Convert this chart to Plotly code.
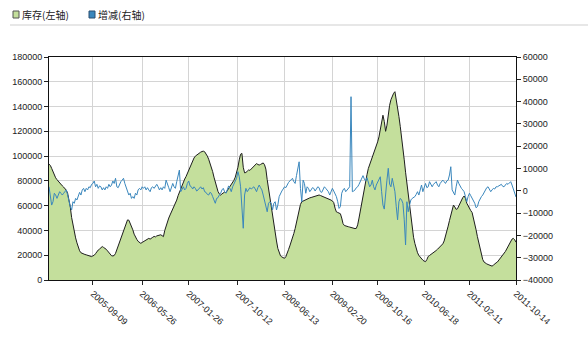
import pandas as pd
import plotly.graph_objects as go

# ---- data ----
start_date = "2005-01-21"
end_date = "2011-10-14"
dates = pd.date_range(start_date, end_date, freq="W-FRI")

stock = [
    93500, 92500, 90100, 87000, 84500, 82500, 81000, 79500, 78300, 77200,
    76000, 75000, 74000, 72500, 70000, 65000, 59000, 50500, 44000, 39000,
    34000, 30000, 25800, 23600, 22000, 21300, 21000, 20600, 20300, 20000,
    19600, 19200, 18900, 19500, 20000, 21300, 23000, 24200, 25000, 26500,
    27000, 26300, 25700, 24800, 23500, 22300, 21000, 19600, 19400, 19800,
    21500, 24500, 28000, 32000, 35000, 37500, 39500, 43000, 47000, 48500,
    48300, 46000, 43500, 40500, 37000, 34500, 32800, 31200, 30000, 29600,
    30300, 31000, 31800, 32500, 33200, 33600, 33000, 34200, 34500, 35200,
    34800, 35600, 36000, 36300, 36500, 35800, 35000, 40000, 44000, 47000,
    50000, 52500, 55000, 57000, 59000, 61000, 64500, 68000, 71000, 74000,
    77000, 79500, 81500, 83500, 86000, 89000, 92000, 95000, 97000, 98500,
    100000, 100900, 101800, 102500, 103200, 103700, 104000, 103500, 102000, 100000,
    97500, 94500, 91000, 87500, 83000, 78500, 75000, 71500, 69500, 68500,
    69500, 70500, 71000, 70500, 72000, 74000, 75000, 76500, 78500, 80500,
    83000, 86500, 91000, 97000, 101500, 102200, 91000, 86500, 86800, 87800,
    88800, 88500, 89500, 90500, 91500, 92500, 94000, 93200, 92800, 93300,
    93800, 94500, 93000, 89500, 81000, 73500, 66500, 58500, 51000, 44000,
    37500, 31500, 25500, 21500, 19500, 18600, 18000, 17500, 18800, 21000,
    24500, 27500, 30500, 34000, 37500, 41500, 46000, 51000, 57500, 61000,
    63200, 63800, 64400, 64900, 65400, 65900, 66300, 66600, 67000, 67200,
    67600, 68000, 68400, 68600, 68200, 67800, 67300, 67000, 66600, 66200,
    65900, 65300, 64500, 63800, 62500, 58000, 55000, 54500, 54000, 53500,
    50000, 45500, 44000, 43500, 43200, 43000, 42700, 42300, 42000, 41700,
    41500, 41700, 44500, 50000, 56000, 63000, 69500, 74500, 80000, 85000,
    90000, 93000, 96000, 98500, 101000, 104000, 107500, 111500, 115500, 120500,
    128000, 133000, 128000, 120000, 125000, 134500, 141000, 145500, 148500, 150700,
    152000, 146000, 139000, 132000, 124000, 116000, 107000, 97000, 87000, 78000,
    68000, 59000, 49000, 40500, 34500, 29500, 25000, 22000, 19800, 18300,
    17000, 16000, 15200, 14800, 16500, 19000, 19800, 20500, 21200, 22000,
    22800, 23800, 24800, 25800, 26800, 28000, 29200, 31500, 35000, 39000,
    43500, 48000, 52500, 57500, 60500, 59000, 57000, 57500, 60000, 63000,
    65000, 66500, 67800, 66000, 62000, 59500, 57500, 56000, 54500, 50500,
    45500, 40500, 35000, 30500, 26000, 20500, 16500, 14500, 13500, 13000,
    12500, 12200, 11500, 11200, 12000, 13200, 13800, 14500, 15800, 17200,
    18500, 19800, 21500, 23000, 25000, 27000, 29500, 31500, 33000, 33600,
    32500, 30500,
]

change = [
    1800, -1900, -6400, -4900, -1100, -1900, -3400, -1900, -400, -1100,
    -1900, -1100, -400, 400, -1900, -4900, -7100, -8600, -4900, -5600,
    -3400, -4100, -1900, -700, -1900, 400, 1100, -400, 1100, 400,
    1800, 1400, 2900, 3300, 4400, 1800, 2900, 1100, 2200, 1800,
    400, 1400, 400, 1800, 1100, 2900, 1800, 2600, 4400, 3300,
    5600, 1800, 1400, 3300, 4100, 4800, 5600, 3300, 1800, -400,
    -1900, -1100, -3400, -2600, -3400, -1100, -1900, 400, 1100, 400,
    1800, 1100, 1800, 400, 1400, 400, -400, 1400, 1800, 1100,
    2200, 2900, 1800, 400, 1400, 400, 1800, 1100, 4800, 2600,
    1400, -400, 1800, 3300, 1800, 1100, 4100, 6300, 9300, -400,
    1100, 1800, 400, 1100, 3300, 4400, 2200, 1800, 800, 1800,
    1100, -100, 400, 1400, 1800, 800, 1400, -400, -700, -1600,
    -1900, -700, -1100, -2600, -4100, -5600, -3400, -3100, -1900, -1100,
    400, 1100, -400, -1100, 400, 2200, 1100, -400, 1800, 3300,
    4400, 5600, 8600, 6300, 1800, -6400, -16800, -1900, 1100, -400,
    400, 1400, 800, 1400, 1800, 800, -400, 1400, 2600, 1400,
    400, -1900, -4900, -7100, -9400, -5600, -4900, -5600, -8600, -5600,
    -4900, -8600, -6400, -2600, -1100, -100, 800, 1800, 1400, 2900,
    3700, 4400, 5300, 5600, 4100, 3300, 6800, 10100, 13000, 1100,
    -4900, 4800, 3300, -1100, 1800, 1100, -400, 400, 1400, 1100,
    -100, 800, 1800, 1400, -400, -700, 400, 1800, 1100, 400,
    -400, -1900, -400, 1100, -100, -1100, -2600, -4900, -7900, -7100,
    -1100, 400, 1100, -400, 400, 1400, 1800, 42200, -400, -100,
    400, 1400, 1800, 2900, 4100, 5300, 6800, 5300, 4400, 5900,
    4100, 1800, 2600, 4800, 1800, 400, 2600, 4100, 5300, 6300,
    -400, -6400, -8200, 400, 4800, 10100, 3000, 1800, 5600, 2600,
    -400, -7100, -13000, -4900, -3400, -4100, -5600, -13000, -24300, -4900,
    -9400, -6400, -4100, -3400, -3100, -2600, -1600, -400, -1900, 1100,
    2600, -400, 1800, 3300, 1400, 1800, 4100, 2600, 1800, 2900,
    3300, 4100, 2600, 1800, 3300, 4100, 4800, 4100, 3300, 4400,
    4800, 7100, 10800, 400, -1100, -1900, 1800, 4800, 3300, 1800,
    1100, 400, -400, -2600, -4900, -2600, -1100, -2200, -3400, -4600,
    -5600, -7600, -7100, -4900, -3400, -2600, -1900, -700, 800, 1400,
    1800, 800, -400, 400, 1100, 800, 1800, 1800, 2200, 2600,
    2900, 2000, 1800, 2600, 3300, 2900, 3700, 4100, 2600, 1100,
    -1100, -2800,
]

tick_dates = ["2005-09-09", "2006-05-26", "2007-01-26", "2007-10-12", "2008-06-13",
              "2009-02-20", "2009-10-16", "2010-06-18", "2011-02-11", "2011-10-14"]

series_names = ["库存(左轴)", "增减(右轴)"]

# ---- styles ----
W, H = 588, 348
ML, MR, MT, MB = 49, 72, 57, 68
PW, PH = W - ML - MR, H - MT - MB
GREEN = "#c4df9c"
BLUE = "#3a87bd"
FONT = "Liberation Sans Narrow, Arial Narrow, Liberation Sans, Arial, sans-serif"


def px_x(px):
    return (px - ML) / PW


def px_y(py):
    return (H - MB - py) / PH


fig = go.Figure()
fig.add_trace(go.Scatter(
    x=dates, y=stock, name=series_names[0], mode="lines",
    fill="tozeroy", fillcolor=GREEN,
    line=dict(color="#1e1e1e", width=1), showlegend=False,
))
fig.add_trace(go.Scatter(
    x=dates, y=change, name=series_names[1], mode="lines", yaxis="y2",
    line=dict(color=BLUE, width=1), showlegend=False,
))

tickfont = dict(family=FONT, size=9, color="#222")
fig.update_layout(
    width=W, height=H,
    margin=dict(l=ML, r=MR, t=MT, b=MB, pad=0),
    paper_bgcolor="white", plot_bgcolor="white",
    xaxis=dict(
        type="date",
        range=[start_date, end_date],
        tickvals=tick_dates, ticktext=tick_dates,
        tickangle=42, tickfont=tickfont,
        ticks="outside", ticklen=4, tickcolor="#222",
        showgrid=True, gridcolor="#d4d4d4", gridwidth=1,
        showline=True, linecolor="#111", linewidth=1, mirror=True,
        zeroline=False,
    ),
    yaxis=dict(
        range=[0, 180000], dtick=20000, tickformat="d",
        tickfont=tickfont, ticks="outside", ticklen=4, tickcolor="#222",
        showgrid=True, gridcolor="#d4d4d4", gridwidth=1,
        showline=True, linecolor="#111", linewidth=1,
        zeroline=False,
    ),
    yaxis2=dict(
        range=[-40000, 60000], dtick=10000, tickformat="d",
        overlaying="y", side="right",
        tickfont=tickfont, ticks="outside", ticklen=4, tickcolor="#222",
        showgrid=False, showline=True, linecolor="#111", linewidth=1,
        zeroline=False,
    ),
    hovermode=False,
)

# legend (drawn manually, small squares like the original)
legend_items = [
    (13, GREEN, "#555", series_names[0]),
    (89, BLUE, "#2a4f70", series_names[1]),
]
for x0, fc, lc, label in legend_items:
    fig.add_shape(type="rect", xref="paper", yref="paper",
                  x0=px_x(x0), x1=px_x(x0 + 6), y0=px_y(18), y1=px_y(11),
                  fillcolor=fc, line=dict(color=lc, width=1))
    fig.add_annotation(xref="paper", yref="paper", x=px_x(x0 + 7), y=px_y(14.5),
                       xanchor="left", yanchor="middle", showarrow=False,
                       text=label,
                       font=dict(family="Noto Sans CJK SC, sans-serif", size=10, color="#222"))
fig.add_shape(type="line", xref="paper", yref="paper",
              x0=px_x(10), x1=px_x(W), y0=px_y(25), y1=px_y(25),
              line=dict(color="#cfcfcf", width=1))

fig.write_html("out.html")
